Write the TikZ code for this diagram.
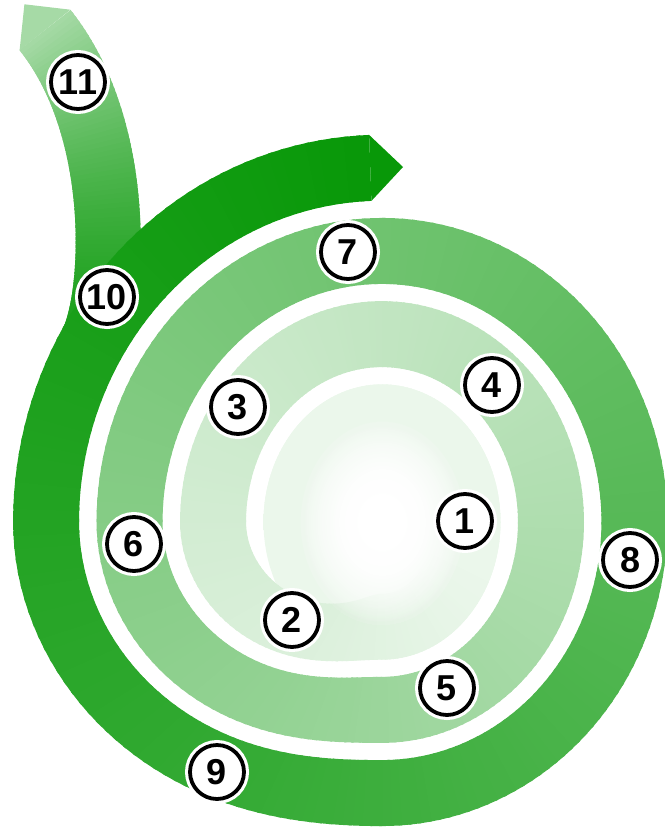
\documentclass[tikz,border=0pt]{standalone}
\usepackage{fontspec}
\newfontfamily\numfont{Liberation Sans}
\usepackage{tikz}
\usetikzlibrary{fadings}
\definecolor{spgreen}{RGB}{8,152,8}
\pgfdeclareradialshading{spcentre}{\pgfpoint{0bp}{0bp}}{color(0bp)=(white); color(5bp)=(white);
    color(11bp)=(spgreen!8!white); color(50bp)=(spgreen!8!white)}
\tikzfading[name=spfade, inner color=transparent!0, outer color=transparent!100]

\begin{document}
\begin{tikzpicture}[
    x=1pt, y=-1pt,
    num/.style={circle, draw=black, line width=3.8pt, fill=white, minimum size=54pt, inner sep=0pt,
        font=\numfont\bfseries\fontsize{36}{36}\selectfont, preaction={draw=white, line width=10pt}},
    glow/.style={white, path fading=spfade},
    declare function={
        spm(\t)=floor((\t-90)/360);
        sps(\t)=min((\t-90-360*spm(\t))/90,1);
        spk(\t)=spm(\t)+1+sps(\t)*sps(\t)*(3-2*sps(\t));
        spx(\t,\o)=382+(83.5*spk(\t)+2+\o)*cos(\t);
        spy(\t,\o)=522+(83.2*spk(\t)+21.5+\o)*sin(\t);
        bzx(\s)=(1-\s)^3*91+3*(1-\s)^2*\s*115+3*(1-\s)*\s^2*125+\s^3*45;
        bzy(\s)=(1-\s)^3*345+3*(1-\s)^2*\s*301+3*(1-\s)*\s^2*130+\s^3*30;
    }
]
\useasboundingbox (0,0) rectangle (664,834);

% Pale centre
\shade[shading=spcentre] (382,522) ellipse [x radius=118.5, y radius=137.5];

% Branch up to 11
\foreach \i in {0,...,79}{
    \pgfmathsetmacro\sa{\i/80}
    \pgfmathsetmacro\sb{min(\sa+0.02,1)}
    \pgfmathsetmacro\p{92-56*(\sa+0.006)^2}
    \draw[spgreen!\p!white, line width=65pt] ({bzx(\sa)},{bzy(\sa)}) -- ({bzx(\sb)},{bzy(\sb)});
}
\fill[spgreen!36!white] (70.4,9.7) -- (24.4,4.3) -- (19.6,50.3) -- cycle;

% Spiral band
\foreach \t in {-180,-178,...,986}{
    \pgfmathsetmacro\tb{min(\t+2.6,988)}
    \pgfmathsetmacro\p{max(8,100*pow((\t+201)/1189,1.5))}
    \fill[spgreen!\p!white] ({spx(\t,33)},{spy(\t,33)}) -- ({spx(\tb,33)},{spy(\tb,33)})
        -- ({spx(\tb,-33)},{spy(\tb,-33)}) -- ({spx(\t,-33)},{spy(\t,-33)}) -- cycle;
}
\coordinate (tip) at (403,167);
\fill[spgreen] ({spx(988,33)},{spy(988,33)}) -- (tip) -- ({spx(988,-33)},{spy(988,-33)}) -- cycle;

% Soft white middle
\foreach \j in {1,2,3}
    \fill[glow] (382,522) ellipse [x radius=86, y radius=106];

% Numbers
\node[num] (n1) at (465,521) {1};
\node[num] (n2) at (292,620) {2};
\node[num] (n3) at (238,407) {3};
\node[num] (n4) at (492,385) {4};
\node[num] (n5) at (447,688) {5};
\node[num] (n6) at (134,544) {6};
\node[num] (n7) at (348,252) {7};
\node[num] (n8) at (630,560) {8};
\node[num] (n9) at (217,772) {9};
\node[num] (n10) at (107,297) {10};
\node[num] (n11) at (78,82) {11};

\end{tikzpicture}
\end{document}
